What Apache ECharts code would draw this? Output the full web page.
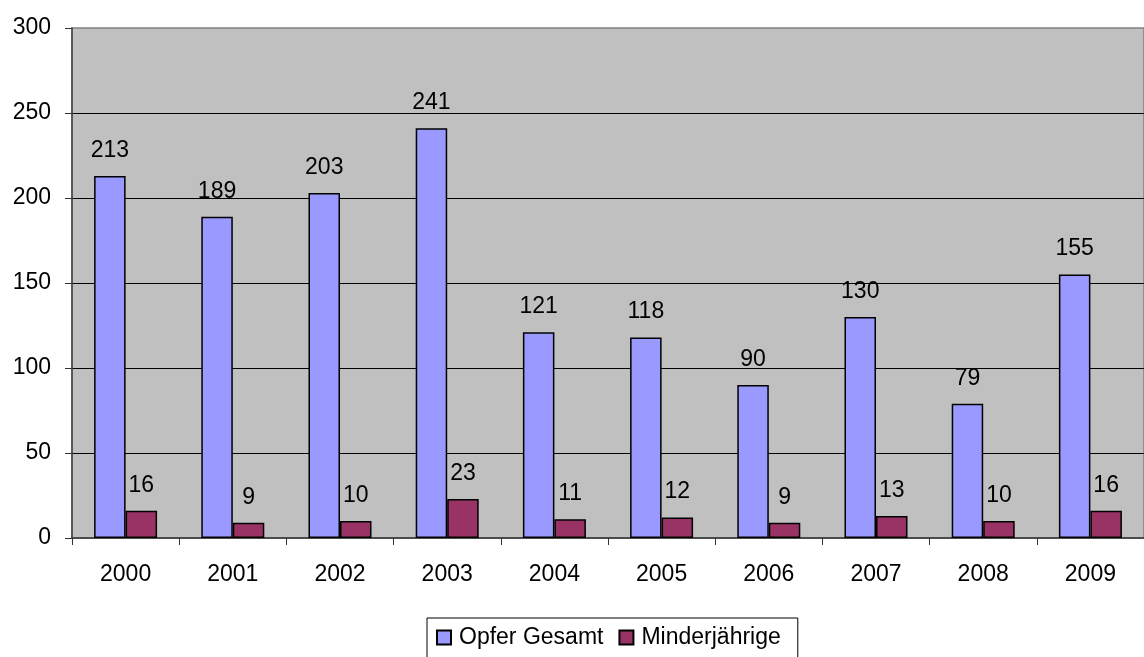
<!DOCTYPE html>
<html><head><meta charset="utf-8">
<script src="https://cdn.jsdelivr.net/npm/echarts@6/dist/echarts.min.js"></script>
<style>html,body{margin:0;padding:0;background:#fff}#c{width:1144px;height:657px}</style>
</head><body><div id="c"></div>
<script>
const years = ['2000','2001','2002','2003','2004','2005','2006','2007','2008','2009'];
const opferGesamt = [213,189,203,241,121,118,90,130,79,155];
const minderjaehrige = [16,9,10,23,11,12,9,13,10,16];
const seriesNames = ['Opfer Gesamt','Minderjährige'];
const yTicks = {min:0, max:300, interval:50};

const font = 'Liberation Sans, Arial, sans-serif';
const fs = 23;
const chart = echarts.init(document.getElementById('c'), null, {renderer:'canvas'});
chart.setOption({
  animation:false,
  textStyle:{fontFamily:font},
  grid:{left:72, top:28, width:1084, height:510, show:true, backgroundColor:'#C0C0C0', borderColor:'#808080', borderWidth:1.5, containLabel:false},
  legend:{
    data:seriesNames, left:427, top:618, orient:'horizontal',
    backgroundColor:'#fff', borderColor:'#000', borderWidth:1,
    padding:[8,17,14,9], itemWidth:14, itemHeight:14, itemGap:15,
    icon:'rect',
    textStyle:{fontSize:fs, color:'#000', fontFamily:font, padding:[0,0,0,3]}
  },
  xAxis:{
    type:'category', data:years,
    axisLine:{lineStyle:{color:'#333', width:1.5}},
    axisTick:{show:true, length:7, lineStyle:{color:'#333'}},
    axisLabel:{fontSize:fs, color:'#000', margin:25, fontFamily:font}
  },
  yAxis:{
    type:'value', min:yTicks.min, max:yTicks.max, interval:yTicks.interval,
    axisLine:{show:true, lineStyle:{color:'#444', width:1.5}},
    axisTick:{show:true, length:7, lineStyle:{color:'#333'}},
    axisLabel:{fontSize:fs, color:'#000', margin:21, fontFamily:font},
    splitLine:{show:true, showMaxLine:false, showMinLine:false, lineStyle:{color:'#000', width:1}}
  },
  series:[
    {name:seriesNames[0], type:'bar', data:opferGesamt, barWidth:31.5, barGap:'0%',
     itemStyle:{color:'#9999FF', borderColor:'#000', borderWidth:1.5},
     label:{show:true, position:'top', distance:14, fontSize:fs, color:'#000', fontFamily:font}},
    {name:seriesNames[1], type:'bar', data:minderjaehrige, barWidth:31.5, barGap:'0%',
     itemStyle:{color:'#993366', borderColor:'#000', borderWidth:1.5},
     label:{show:true, position:'top', distance:14, fontSize:fs, color:'#000', fontFamily:font}}
  ]
});
</script></body></html>
